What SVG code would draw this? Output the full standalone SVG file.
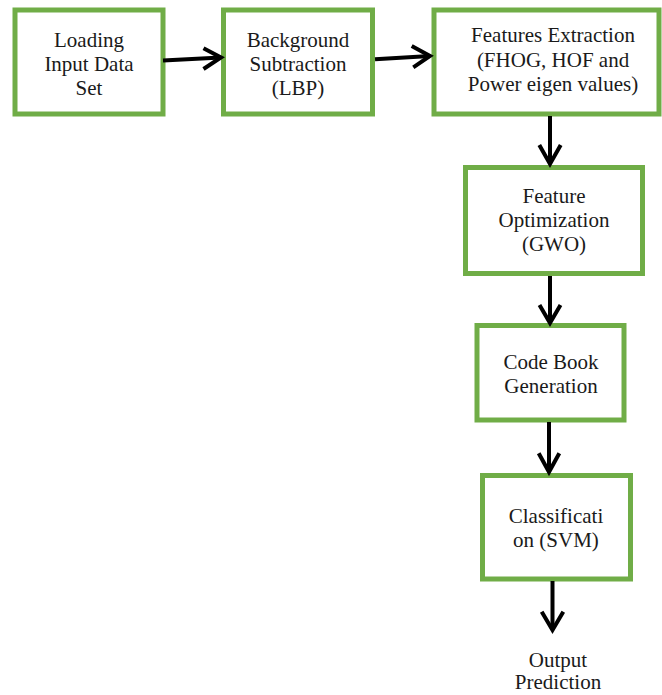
<svg xmlns="http://www.w3.org/2000/svg" width="662" height="695" viewBox="0 0 662 695">
<style>
.box{fill:#fff;stroke:#70AD47;stroke-width:5}
.t{font-family:'Liberation Serif',serif;font-size:21px;fill:#1a1a1a;text-anchor:middle}
.c{fill:none;stroke:#000;stroke-width:4;stroke-linecap:butt;stroke-linejoin:miter}
</style>
<rect width="662" height="695" fill="#fff"/>
<g id="n1"><rect class="box" x="15" y="10" width="148" height="104"/>
<text class="t" x="89" y="47">Loading</text><text class="t" x="89" y="71">Input Data</text><text class="t" x="89" y="94.5">Set</text></g>
<g id="n2"><rect class="box" x="223.5" y="10" width="149" height="104"/>
<text class="t" x="298" y="47">Background</text><text class="t" x="298" y="71">Subtraction</text><text class="t" x="298" y="94.5">(LBP)</text></g>
<g id="n3"><rect class="box" x="434" y="10" width="225" height="104"/>
<text class="t" x="553" y="42">Features Extraction</text><text class="t" x="553" y="66.5">(FHOG, HOF and</text><text class="t" x="553" y="90.5">Power eigen values)</text></g>
<g id="n4"><rect class="box" x="465.5" y="167.5" width="177" height="106"/>
<text class="t" x="554" y="203">Feature</text><text class="t" x="554" y="227">Optimization</text><text class="t" x="554" y="251">(GWO)</text></g>
<g id="n5"><rect class="box" x="477" y="325.5" width="147" height="94.5"/>
<text class="t" x="551" y="369">Code Book</text><text class="t" x="551" y="393">Generation</text></g>
<g id="n6"><rect class="box" x="482.5" y="475.5" width="148" height="103.5"/>
<text class="t" x="556" y="523">Classificati</text><text class="t" x="556" y="547">on (SVM)</text></g>
<g id="n7"><text class="t" x="558" y="667">Output</text><text class="t" x="558" y="689">Prediction</text></g>
<g id="connectors">
<line class="c" x1="163" y1="60.5" x2="221" y2="57.5"/><polyline class="c" points="203.5,48.3 221,57.5 203.5,69"/>
<line class="c" x1="375" y1="59.3" x2="430" y2="56"/><polyline class="c" points="411.7,46 430,56 413.3,67.3"/>
<line class="c" x1="550" y1="116" x2="550" y2="164"/><polyline class="c" points="539.3,145 550,164 560.7,145"/>
<line class="c" x1="550" y1="276" x2="550" y2="323"/><polyline class="c" points="539.5,305 550,323 560.5,305"/>
<line class="c" x1="549" y1="422" x2="549" y2="472"/><polyline class="c" points="538.7,453.3 549,472 559.3,453.3"/>
<line class="c" x1="552.5" y1="581" x2="552.5" y2="630"/><polyline class="c" points="541.7,611.7 552.5,630 563.3,611.7"/>
</g>
</svg>
